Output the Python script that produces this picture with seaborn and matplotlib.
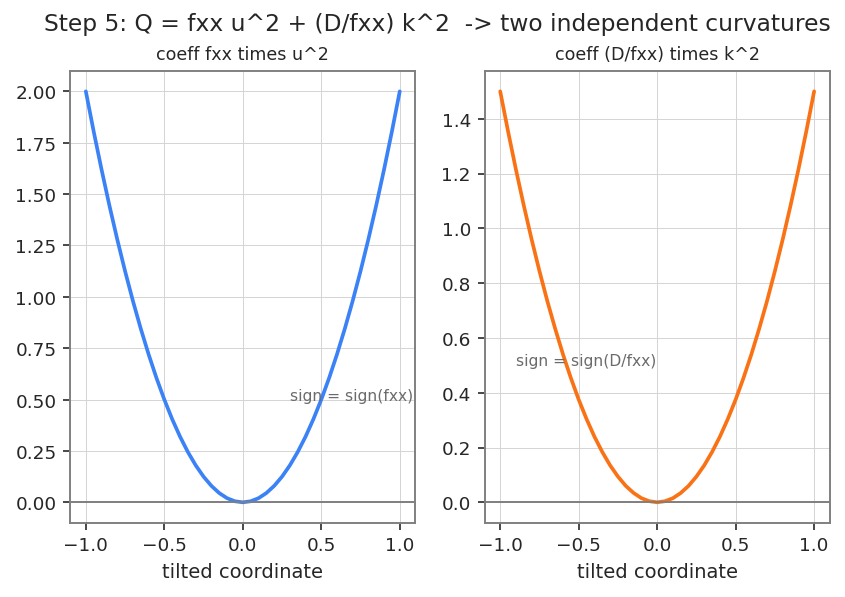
import numpy as np
import pandas as pd
import seaborn as sns
import matplotlib
matplotlib.use("Agg")
import matplotlib.pyplot as plt

# tilted coordinate samples (step 0.05)
coord = [-1.0, -0.95, -0.9, -0.85, -0.8, -0.75, -0.7, -0.65, -0.6, -0.55, -0.5,
         -0.45, -0.4, -0.35, -0.3, -0.25, -0.2, -0.15, -0.1, -0.05, 0.0,
         0.05, 0.1, 0.15, 0.2, 0.25, 0.3, 0.35, 0.4, 0.45, 0.5,
         0.55, 0.6, 0.65, 0.7, 0.75, 0.8, 0.85, 0.9, 0.95, 1.0]

# left panel: fxx * u^2
u_curve = [2.0, 1.805, 1.62, 1.445, 1.28, 1.125, 0.98, 0.845, 0.72, 0.605, 0.5,
           0.405, 0.32, 0.245, 0.18, 0.125, 0.08, 0.045, 0.02, 0.005, 0.0,
           0.005, 0.02, 0.045, 0.08, 0.125, 0.18, 0.245, 0.32, 0.405, 0.5,
           0.605, 0.72, 0.845, 0.98, 1.125, 1.28, 1.445, 1.62, 1.805, 2.0]

# right panel: (D/fxx) * k^2
k_curve = [1.5, 1.354, 1.215, 1.084, 0.96, 0.844, 0.735, 0.634, 0.54, 0.454, 0.375,
           0.304, 0.24, 0.184, 0.135, 0.094, 0.06, 0.034, 0.015, 0.004, 0.0,
           0.004, 0.015, 0.034, 0.06, 0.094, 0.135, 0.184, 0.24, 0.304, 0.375,
           0.454, 0.54, 0.634, 0.735, 0.844, 0.96, 1.084, 1.215, 1.354, 1.5]

panels = [
    ("coeff fxx times u^2", u_curve, "#3b82f6", "sign = sign(fxx)", 0.3),
    ("coeff (D/fxx) times k^2", k_curve, "#f97316", "sign = sign(D/fxx)", -0.9),
]

sns.set_theme(style="ticks")
plt.rcParams["font.family"] = ["DejaVu Sans"]

fig, axes = plt.subplots(1, 2, figsize=(6.036, 4.271), dpi=140)

for ax, (title, vals, color, note, note_x) in zip(axes, panels):
    df = pd.DataFrame({"x": coord, "y": vals})
    sns.lineplot(data=df, x="x", y="y", ax=ax, color=color, linewidth=1.9)
    ax.axhline(0, color="#7f7f7f", linewidth=1)
    ax.text(note_x, 0.5, note, fontsize=8, color="#6b6b6b")
    ax.set_title(title, fontsize=9)
    ax.set_xlabel("tilted coordinate", fontsize=10)
    ax.set_ylabel("")
    ax.grid(True, color="#d4d4d4", linewidth=0.5)
    ax.tick_params(labelsize=9.5, color="#333333", length=3.5, width=0.9)
    for s in ax.spines.values():
        s.set_color("#808080")
        s.set_linewidth(1.0)
        s.set_visible(True)

fig.suptitle("Step 5: Q = fxx u^2 + (D/fxx) k^2  -> two independent curvatures",
             fontsize=12, x=0.517, y=0.978)
fig.subplots_adjust(left=0.083, right=0.982, top=0.88, bottom=0.124, wspace=0.2)
fig.savefig("out.png", dpi=140)
